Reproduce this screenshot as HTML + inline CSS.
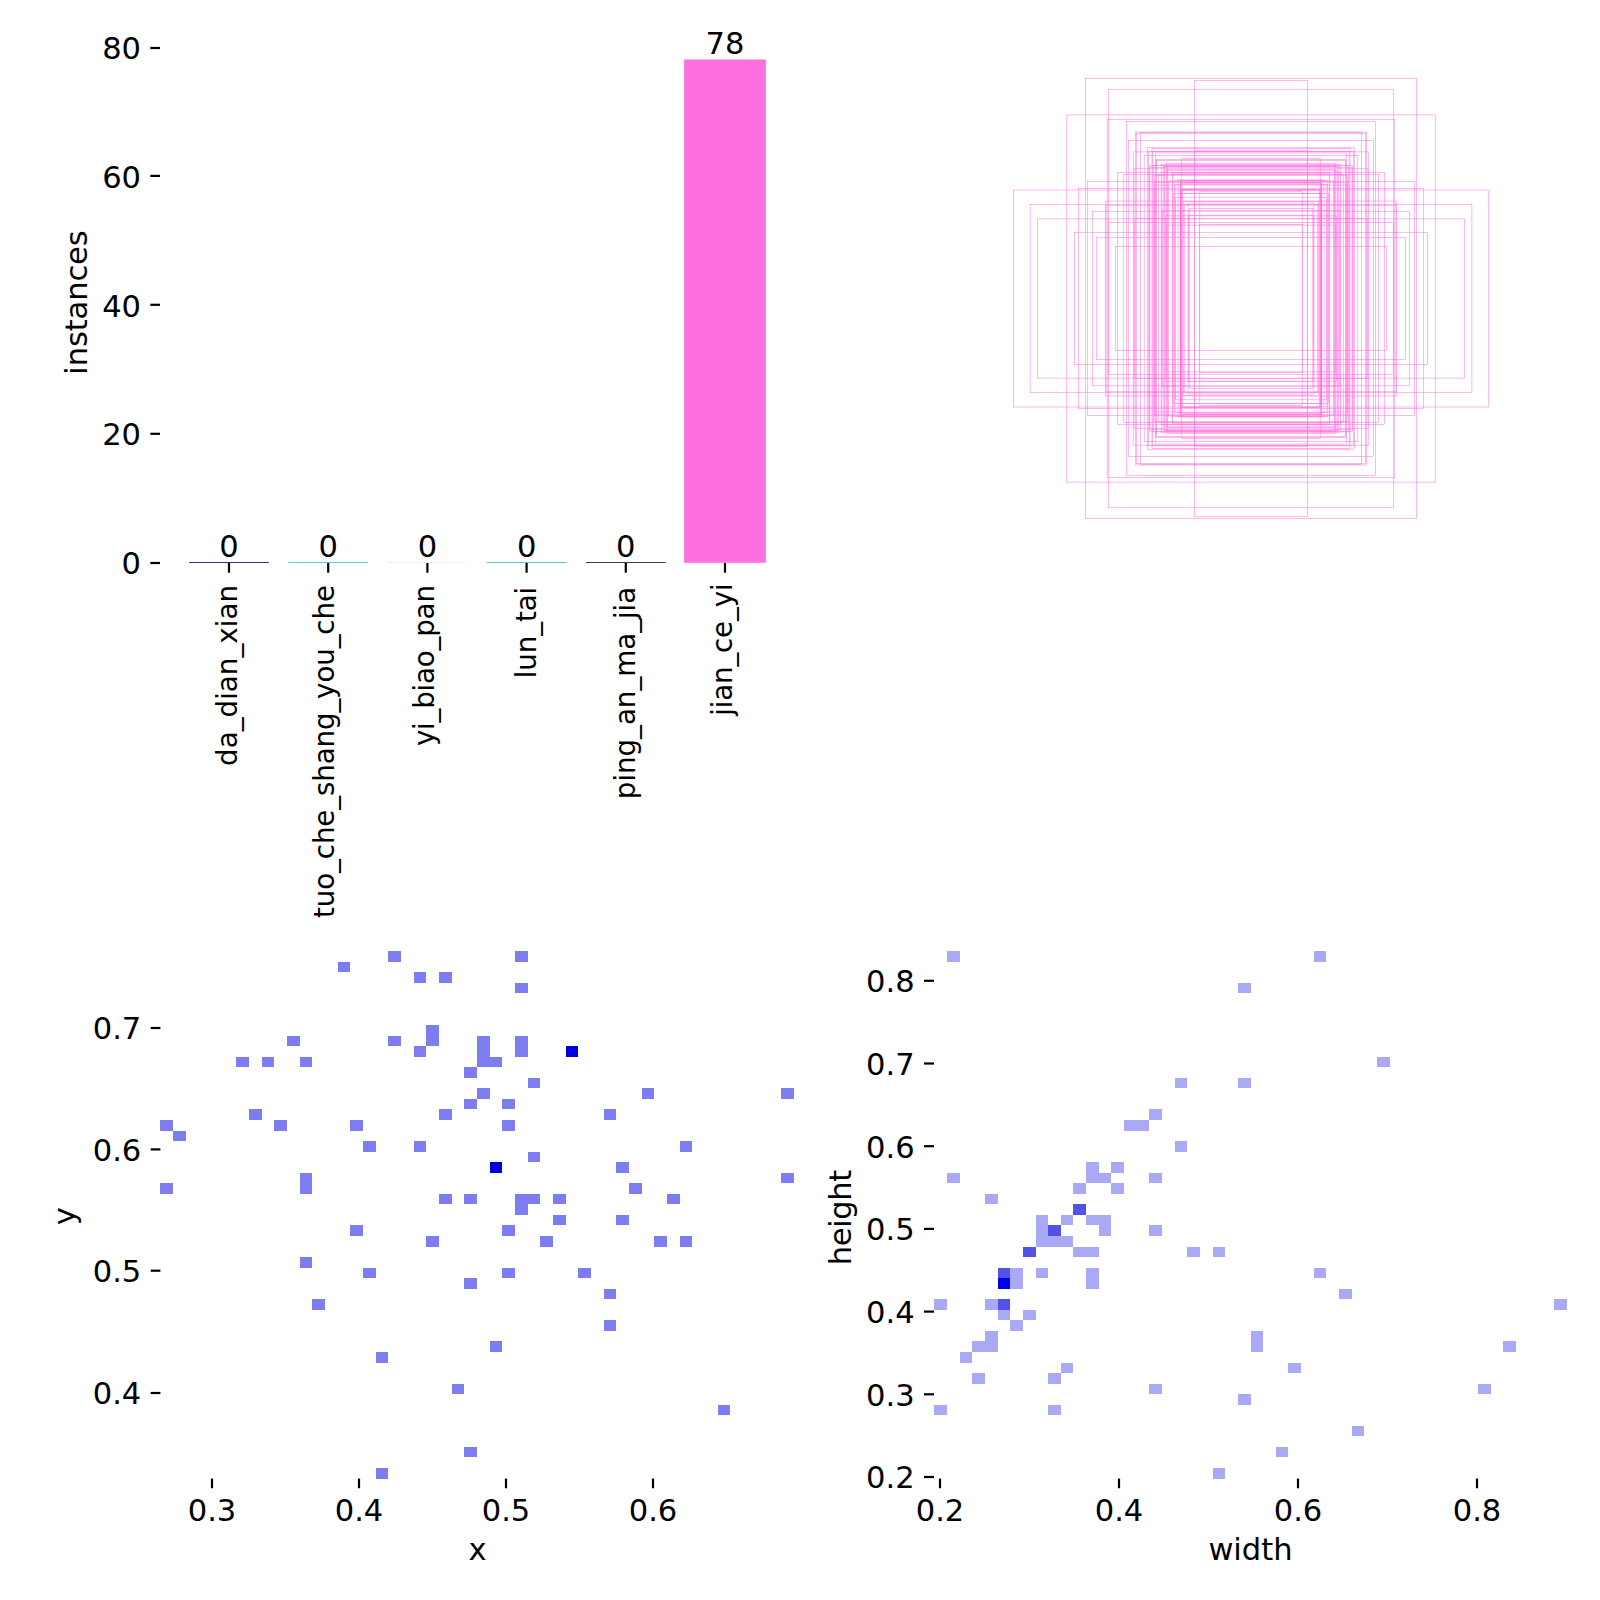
<!DOCTYPE html>
<html><head><meta charset="utf-8"><title>labels</title>
<style>html,body{margin:0;padding:0;background:#fff}svg{display:block}text{font-family:"DejaVu Sans", "Liberation Sans", sans-serif;fill:#000}</style>
</head><body>
<svg width="1600" height="1600" viewBox="0 0 1600 1600">
<rect width="1600" height="1600" fill="#fff"/>
<line x1="150.30" y1="563.00" x2="160.00" y2="563.00" stroke="#000" stroke-width="2.2"/>
<text x="141.00" y="574.00" text-anchor="end" font-size="30.56">0</text>
<line x1="150.30" y1="433.80" x2="160.00" y2="433.80" stroke="#000" stroke-width="2.2"/>
<text x="141.00" y="445.00" text-anchor="end" font-size="30.56">20</text>
<line x1="150.30" y1="304.80" x2="160.00" y2="304.80" stroke="#000" stroke-width="2.2"/>
<text x="141.00" y="317.00" text-anchor="end" font-size="30.56">40</text>
<line x1="150.30" y1="175.90" x2="160.00" y2="175.90" stroke="#000" stroke-width="2.2"/>
<text x="141.00" y="188.00" text-anchor="end" font-size="30.56">60</text>
<line x1="150.30" y1="48.00" x2="160.00" y2="48.00" stroke="#000" stroke-width="2.2"/>
<text x="141.00" y="59.00" text-anchor="end" font-size="30.56">80</text>
<line x1="189.20" y1="562.50" x2="268.80" y2="562.50" stroke="#2e2e9a" stroke-width="1.1"/>
<line x1="229.00" y1="563.00" x2="229.00" y2="572.70" stroke="#000" stroke-width="2.2"/>
<text x="229.00" y="557.00" text-anchor="middle" font-size="30.56">0</text>
<text x="237.30" y="585.00" text-anchor="end" font-size="27.78" transform="rotate(-90 237.30 585.00)" textLength="180.9" lengthAdjust="spacing">da_dian_xian</text>
<line x1="288.40" y1="562.50" x2="368.00" y2="562.50" stroke="#4fd2dc" stroke-width="1.1"/>
<line x1="328.20" y1="563.00" x2="328.20" y2="572.70" stroke="#000" stroke-width="2.2"/>
<text x="328.20" y="557.00" text-anchor="middle" font-size="30.56">0</text>
<text x="334.25" y="585.00" text-anchor="end" font-size="27.78" transform="rotate(-90 334.25 585.00)" textLength="332.9" lengthAdjust="spacing">tuo_che_shang_you_che</text>
<line x1="387.60" y1="562.50" x2="467.20" y2="562.50" stroke="#eeeeee" stroke-width="1.1"/>
<line x1="427.40" y1="563.00" x2="427.40" y2="572.70" stroke="#000" stroke-width="2.2"/>
<text x="427.40" y="557.00" text-anchor="middle" font-size="30.56">0</text>
<text x="433.95" y="585.00" text-anchor="end" font-size="27.78" transform="rotate(-90 433.95 585.00)" textLength="161.1" lengthAdjust="spacing">yi_biao_pan</text>
<line x1="486.80" y1="562.50" x2="566.40" y2="562.50" stroke="#45d2c4" stroke-width="1.1"/>
<line x1="526.60" y1="563.00" x2="526.60" y2="572.70" stroke="#000" stroke-width="2.2"/>
<text x="526.60" y="557.00" text-anchor="middle" font-size="30.56">0</text>
<text x="535.65" y="586.75" text-anchor="end" font-size="27.78" transform="rotate(-90 535.65 586.75)" textLength="91.5" lengthAdjust="spacing">lun_tai</text>
<line x1="586.00" y1="562.50" x2="665.60" y2="562.50" stroke="#3c3c48" stroke-width="1.1"/>
<line x1="625.80" y1="563.00" x2="625.80" y2="572.70" stroke="#000" stroke-width="2.2"/>
<text x="625.80" y="557.00" text-anchor="middle" font-size="30.56">0</text>
<text x="635.10" y="586.75" text-anchor="end" font-size="27.78" transform="rotate(-90 635.10 586.75)" textLength="212.4" lengthAdjust="spacing">ping_an_ma_jia</text>
<rect x="684.10" y="59.48" width="81.80" height="503.32" fill="#ff6fde"/>
<line x1="725.00" y1="563.00" x2="725.00" y2="572.70" stroke="#000" stroke-width="2.2"/>
<text x="725.00" y="53.77" text-anchor="middle" font-size="30.56">78</text>
<text x="731.55" y="583.40" text-anchor="end" font-size="27.78" transform="rotate(-90 731.55 583.40)" textLength="132.4" lengthAdjust="spacing">jian_ce_yi</text>
<text x="87.20" y="302.50" text-anchor="middle" font-size="30.56" transform="rotate(-90 87.20 302.50)" textLength="144.4" lengthAdjust="spacing">instances</text>
<g fill="none" stroke="#ff6fde" stroke-opacity="0.9" stroke-width="0.55">
<rect x="1199.80" y="191.60" width="102.40" height="213.80"/>
<rect x="1199.40" y="224.30" width="103.20" height="148.40"/>
<rect x="1194.50" y="80.30" width="113.00" height="436.40"/>
<rect x="1194.60" y="150.80" width="112.80" height="295.40"/>
<rect x="1189.20" y="208.40" width="123.60" height="180.20"/>
<rect x="1188.00" y="203.00" width="126.00" height="191.00"/>
<rect x="1188.50" y="215.30" width="125.00" height="166.40"/>
<rect x="1181.80" y="158.40" width="138.40" height="280.20"/>
<rect x="1182.60" y="189.30" width="136.80" height="218.40"/>
<rect x="1183.40" y="201.30" width="135.20" height="194.40"/>
<rect x="1184.20" y="204.60" width="133.60" height="187.80"/>
<rect x="1178.00" y="179.90" width="146.00" height="237.20"/>
<rect x="1180.20" y="180.30" width="141.60" height="236.40"/>
<rect x="1180.40" y="182.50" width="141.20" height="232.00"/>
<rect x="1180.70" y="182.80" width="140.60" height="231.40"/>
<rect x="1181.00" y="183.50" width="140.00" height="230.00"/>
<rect x="1180.50" y="189.60" width="141.00" height="217.80"/>
<rect x="1181.10" y="190.60" width="139.80" height="215.80"/>
<rect x="1181.20" y="193.30" width="139.60" height="210.40"/>
<rect x="1174.20" y="180.60" width="153.60" height="235.80"/>
<rect x="1175.00" y="184.60" width="152.00" height="227.80"/>
<rect x="1175.70" y="197.20" width="150.60" height="202.60"/>
<rect x="1172.20" y="172.60" width="157.60" height="251.80"/>
<rect x="1172.80" y="173.80" width="156.40" height="249.40"/>
<rect x="1173.50" y="193.70" width="155.00" height="209.60"/>
<rect x="1166.60" y="163.40" width="168.80" height="270.20"/>
<rect x="1167.20" y="166.00" width="167.60" height="265.00"/>
<rect x="1167.80" y="169.50" width="166.40" height="258.00"/>
<rect x="1168.40" y="181.00" width="165.20" height="235.00"/>
<rect x="1163.20" y="166.30" width="175.60" height="264.40"/>
<rect x="1164.20" y="166.60" width="173.60" height="263.80"/>
<rect x="1165.00" y="170.20" width="172.00" height="256.60"/>
<rect x="1165.70" y="215.90" width="170.60" height="165.20"/>
<rect x="1166.20" y="225.10" width="169.60" height="146.80"/>
<rect x="1161.20" y="164.60" width="179.60" height="267.80"/>
<rect x="1161.80" y="172.20" width="178.40" height="252.60"/>
<rect x="1162.40" y="210.30" width="177.20" height="176.40"/>
<rect x="1155.60" y="153.00" width="190.80" height="291.00"/>
<rect x="1156.00" y="159.50" width="190.00" height="278.00"/>
<rect x="1156.40" y="160.30" width="189.20" height="276.40"/>
<rect x="1158.40" y="174.40" width="185.20" height="248.20"/>
<rect x="1152.00" y="148.50" width="198.00" height="300.00"/>
<rect x="1152.80" y="151.20" width="196.40" height="294.60"/>
<rect x="1153.60" y="165.20" width="194.80" height="266.60"/>
<rect x="1154.20" y="175.30" width="193.60" height="246.40"/>
<rect x="1154.60" y="182.20" width="192.80" height="232.60"/>
<rect x="1155.00" y="185.00" width="192.00" height="227.00"/>
<rect x="1148.60" y="151.50" width="204.80" height="294.00"/>
<rect x="1149.30" y="165.50" width="203.40" height="266.00"/>
<rect x="1149.90" y="167.50" width="202.20" height="262.00"/>
<rect x="1147.40" y="147.80" width="207.20" height="301.40"/>
<rect x="1144.20" y="155.30" width="213.60" height="286.40"/>
<rect x="1140.60" y="132.60" width="220.80" height="331.80"/>
<rect x="1136.70" y="133.60" width="228.60" height="329.80"/>
<rect x="1135.70" y="132.00" width="230.60" height="333.00"/>
<rect x="1133.20" y="151.90" width="235.60" height="293.20"/>
<rect x="1134.00" y="168.80" width="234.00" height="259.40"/>
<rect x="1134.80" y="218.50" width="232.40" height="160.00"/>
<rect x="1126.50" y="121.40" width="249.00" height="354.20"/>
<rect x="1128.40" y="140.40" width="245.20" height="316.20"/>
<rect x="1123.40" y="174.60" width="255.20" height="247.80"/>
<rect x="1117.70" y="172.40" width="266.60" height="252.20"/>
<rect x="1115.60" y="246.40" width="270.80" height="104.20"/>
<rect x="1108.50" y="89.20" width="285.00" height="418.60"/>
<rect x="1107.20" y="119.30" width="287.60" height="358.40"/>
<rect x="1108.30" y="222.40" width="285.40" height="152.20"/>
<rect x="1105.30" y="201.00" width="291.40" height="195.00"/>
<rect x="1106.00" y="205.20" width="290.00" height="186.60"/>
<rect x="1096.70" y="237.40" width="308.60" height="122.20"/>
<rect x="1092.60" y="211.20" width="316.80" height="174.60"/>
<rect x="1085.30" y="78.40" width="331.40" height="440.20"/>
<rect x="1087.50" y="181.50" width="327.00" height="234.00"/>
<rect x="1078.60" y="188.40" width="344.80" height="220.20"/>
<rect x="1074.60" y="232.30" width="352.80" height="132.40"/>
<rect x="1066.80" y="114.90" width="368.40" height="367.20"/>
<rect x="1037.60" y="218.90" width="426.80" height="159.20"/>
<rect x="1030.10" y="204.40" width="441.80" height="188.20"/>
<rect x="1013.35" y="190.00" width="475.30" height="217.00"/>
</g>
<g shape-rendering="crispEdges">
<rect x="388.00" y="951.00" width="13.00" height="11.00" fill="#7d7df1"/>
<rect x="515.00" y="951.00" width="13.00" height="11.00" fill="#7d7df1"/>
<rect x="338.00" y="962.00" width="12.00" height="10.00" fill="#7d7df1"/>
<rect x="414.00" y="972.00" width="12.00" height="11.00" fill="#7d7df1"/>
<rect x="439.00" y="972.00" width="13.00" height="11.00" fill="#7d7df1"/>
<rect x="515.00" y="983.00" width="13.00" height="10.00" fill="#7d7df1"/>
<rect x="426.00" y="1025.00" width="13.00" height="11.00" fill="#7d7df1"/>
<rect x="287.00" y="1036.00" width="13.00" height="10.00" fill="#7d7df1"/>
<rect x="388.00" y="1036.00" width="13.00" height="10.00" fill="#7d7df1"/>
<rect x="426.00" y="1036.00" width="13.00" height="10.00" fill="#7d7df1"/>
<rect x="477.00" y="1036.00" width="13.00" height="10.00" fill="#7d7df1"/>
<rect x="515.00" y="1036.00" width="13.00" height="10.00" fill="#7d7df1"/>
<rect x="414.00" y="1046.00" width="12.00" height="11.00" fill="#7d7df1"/>
<rect x="477.00" y="1046.00" width="13.00" height="11.00" fill="#7d7df1"/>
<rect x="515.00" y="1046.00" width="13.00" height="11.00" fill="#7d7df1"/>
<rect x="566.00" y="1046.00" width="12.00" height="11.00" fill="#0000de"/>
<rect x="236.00" y="1057.00" width="13.00" height="10.00" fill="#7d7df1"/>
<rect x="262.00" y="1057.00" width="12.00" height="10.00" fill="#7d7df1"/>
<rect x="300.00" y="1057.00" width="12.00" height="10.00" fill="#7d7df1"/>
<rect x="477.00" y="1057.00" width="13.00" height="10.00" fill="#7d7df1"/>
<rect x="490.00" y="1057.00" width="12.00" height="10.00" fill="#7d7df1"/>
<rect x="464.00" y="1067.00" width="13.00" height="11.00" fill="#7d7df1"/>
<rect x="528.00" y="1078.00" width="12.00" height="10.00" fill="#7d7df1"/>
<rect x="477.00" y="1088.00" width="13.00" height="11.00" fill="#7d7df1"/>
<rect x="642.00" y="1088.00" width="12.00" height="11.00" fill="#7d7df1"/>
<rect x="781.00" y="1088.00" width="13.00" height="11.00" fill="#7d7df1"/>
<rect x="464.00" y="1099.00" width="13.00" height="10.00" fill="#7d7df1"/>
<rect x="502.00" y="1099.00" width="13.00" height="10.00" fill="#7d7df1"/>
<rect x="249.00" y="1109.00" width="13.00" height="11.00" fill="#7d7df1"/>
<rect x="439.00" y="1109.00" width="13.00" height="11.00" fill="#7d7df1"/>
<rect x="604.00" y="1109.00" width="12.00" height="11.00" fill="#7d7df1"/>
<rect x="160.00" y="1120.00" width="13.00" height="11.00" fill="#7d7df1"/>
<rect x="274.00" y="1120.00" width="13.00" height="11.00" fill="#7d7df1"/>
<rect x="350.00" y="1120.00" width="13.00" height="11.00" fill="#7d7df1"/>
<rect x="502.00" y="1120.00" width="13.00" height="11.00" fill="#7d7df1"/>
<rect x="173.00" y="1131.00" width="13.00" height="10.00" fill="#7d7df1"/>
<rect x="363.00" y="1141.00" width="13.00" height="11.00" fill="#7d7df1"/>
<rect x="414.00" y="1141.00" width="12.00" height="11.00" fill="#7d7df1"/>
<rect x="680.00" y="1141.00" width="12.00" height="11.00" fill="#7d7df1"/>
<rect x="528.00" y="1152.00" width="12.00" height="10.00" fill="#7d7df1"/>
<rect x="490.00" y="1162.00" width="12.00" height="11.00" fill="#0000de"/>
<rect x="616.00" y="1162.00" width="13.00" height="11.00" fill="#7d7df1"/>
<rect x="300.00" y="1173.00" width="12.00" height="10.00" fill="#7d7df1"/>
<rect x="781.00" y="1173.00" width="13.00" height="10.00" fill="#7d7df1"/>
<rect x="160.00" y="1183.00" width="13.00" height="11.00" fill="#7d7df1"/>
<rect x="300.00" y="1183.00" width="12.00" height="11.00" fill="#7d7df1"/>
<rect x="629.00" y="1183.00" width="13.00" height="11.00" fill="#7d7df1"/>
<rect x="439.00" y="1194.00" width="13.00" height="10.00" fill="#7d7df1"/>
<rect x="464.00" y="1194.00" width="13.00" height="10.00" fill="#7d7df1"/>
<rect x="515.00" y="1194.00" width="13.00" height="10.00" fill="#7d7df1"/>
<rect x="528.00" y="1194.00" width="12.00" height="10.00" fill="#7d7df1"/>
<rect x="553.00" y="1194.00" width="13.00" height="10.00" fill="#7d7df1"/>
<rect x="667.00" y="1194.00" width="13.00" height="10.00" fill="#7d7df1"/>
<rect x="515.00" y="1204.00" width="13.00" height="11.00" fill="#7d7df1"/>
<rect x="553.00" y="1215.00" width="13.00" height="10.00" fill="#7d7df1"/>
<rect x="616.00" y="1215.00" width="13.00" height="10.00" fill="#7d7df1"/>
<rect x="350.00" y="1225.00" width="13.00" height="11.00" fill="#7d7df1"/>
<rect x="502.00" y="1225.00" width="13.00" height="11.00" fill="#7d7df1"/>
<rect x="426.00" y="1236.00" width="13.00" height="11.00" fill="#7d7df1"/>
<rect x="540.00" y="1236.00" width="13.00" height="11.00" fill="#7d7df1"/>
<rect x="654.00" y="1236.00" width="13.00" height="11.00" fill="#7d7df1"/>
<rect x="680.00" y="1236.00" width="12.00" height="11.00" fill="#7d7df1"/>
<rect x="300.00" y="1257.00" width="12.00" height="11.00" fill="#7d7df1"/>
<rect x="363.00" y="1268.00" width="13.00" height="10.00" fill="#7d7df1"/>
<rect x="502.00" y="1268.00" width="13.00" height="10.00" fill="#7d7df1"/>
<rect x="578.00" y="1268.00" width="13.00" height="10.00" fill="#7d7df1"/>
<rect x="464.00" y="1278.00" width="13.00" height="11.00" fill="#7d7df1"/>
<rect x="604.00" y="1289.00" width="12.00" height="10.00" fill="#7d7df1"/>
<rect x="312.00" y="1299.00" width="13.00" height="11.00" fill="#7d7df1"/>
<rect x="604.00" y="1320.00" width="12.00" height="11.00" fill="#7d7df1"/>
<rect x="490.00" y="1341.00" width="12.00" height="11.00" fill="#7d7df1"/>
<rect x="376.00" y="1352.00" width="12.00" height="11.00" fill="#7d7df1"/>
<rect x="452.00" y="1384.00" width="12.00" height="10.00" fill="#7d7df1"/>
<rect x="718.00" y="1405.00" width="12.00" height="10.00" fill="#7d7df1"/>
<rect x="464.00" y="1447.00" width="13.00" height="10.00" fill="#7d7df1"/>
<rect x="376.00" y="1468.00" width="12.00" height="11.00" fill="#7d7df1"/>
</g>
<line x1="212.00" y1="1478.55" x2="212.00" y2="1488.25" stroke="#000" stroke-width="2.2"/>
<text x="212.00" y="1521.00" text-anchor="middle" font-size="30.56">0.3</text>
<line x1="359.00" y1="1478.55" x2="359.00" y2="1488.25" stroke="#000" stroke-width="2.2"/>
<text x="359.00" y="1521.00" text-anchor="middle" font-size="30.56">0.4</text>
<line x1="506.00" y1="1478.55" x2="506.00" y2="1488.25" stroke="#000" stroke-width="2.2"/>
<text x="506.00" y="1521.00" text-anchor="middle" font-size="30.56">0.5</text>
<line x1="653.00" y1="1478.55" x2="653.00" y2="1488.25" stroke="#000" stroke-width="2.2"/>
<text x="653.00" y="1521.00" text-anchor="middle" font-size="30.56">0.6</text>
<line x1="150.70" y1="1028.00" x2="160.40" y2="1028.00" stroke="#000" stroke-width="2.2"/>
<text x="141.30" y="1039.00" text-anchor="end" font-size="30.56">0.7</text>
<line x1="150.70" y1="1149.40" x2="160.40" y2="1149.40" stroke="#000" stroke-width="2.2"/>
<text x="141.30" y="1161.00" text-anchor="end" font-size="30.56">0.6</text>
<line x1="150.70" y1="1270.70" x2="160.40" y2="1270.70" stroke="#000" stroke-width="2.2"/>
<text x="141.30" y="1282.00" text-anchor="end" font-size="30.56">0.5</text>
<line x1="150.70" y1="1393.00" x2="160.40" y2="1393.00" stroke="#000" stroke-width="2.2"/>
<text x="141.30" y="1404.00" text-anchor="end" font-size="30.56">0.4</text>
<text x="477.50" y="1560.30" text-anchor="middle" font-size="30.56">x</text>
<text x="74.60" y="1216.30" text-anchor="middle" font-size="30.56" transform="rotate(-90 74.60 1216.30)">y</text>
<g shape-rendering="crispEdges">
<rect x="947.00" y="951.00" width="13.00" height="11.00" fill="#a9a9f6"/>
<rect x="1314.00" y="951.00" width="12.00" height="11.00" fill="#a9a9f6"/>
<rect x="1238.00" y="983.00" width="13.00" height="10.00" fill="#a9a9f6"/>
<rect x="1377.00" y="1057.00" width="13.00" height="10.00" fill="#a9a9f6"/>
<rect x="1175.00" y="1078.00" width="12.00" height="10.00" fill="#a9a9f6"/>
<rect x="1238.00" y="1078.00" width="13.00" height="10.00" fill="#a9a9f6"/>
<rect x="1149.00" y="1109.00" width="13.00" height="11.00" fill="#a9a9f6"/>
<rect x="1124.00" y="1120.00" width="13.00" height="11.00" fill="#a9a9f6"/>
<rect x="1137.00" y="1120.00" width="12.00" height="11.00" fill="#a9a9f6"/>
<rect x="1175.00" y="1141.00" width="12.00" height="11.00" fill="#a9a9f6"/>
<rect x="1086.00" y="1162.00" width="13.00" height="11.00" fill="#a9a9f6"/>
<rect x="1111.00" y="1162.00" width="13.00" height="11.00" fill="#a9a9f6"/>
<rect x="947.00" y="1173.00" width="13.00" height="10.00" fill="#a9a9f6"/>
<rect x="1086.00" y="1173.00" width="13.00" height="10.00" fill="#a9a9f6"/>
<rect x="1099.00" y="1173.00" width="12.00" height="10.00" fill="#a9a9f6"/>
<rect x="1149.00" y="1173.00" width="13.00" height="10.00" fill="#a9a9f6"/>
<rect x="1073.00" y="1183.00" width="13.00" height="11.00" fill="#a9a9f6"/>
<rect x="1111.00" y="1183.00" width="13.00" height="11.00" fill="#a9a9f6"/>
<rect x="985.00" y="1194.00" width="13.00" height="10.00" fill="#a9a9f6"/>
<rect x="1073.00" y="1204.00" width="13.00" height="11.00" fill="#5252ea"/>
<rect x="1036.00" y="1215.00" width="12.00" height="10.00" fill="#a9a9f6"/>
<rect x="1061.00" y="1215.00" width="12.00" height="10.00" fill="#a9a9f6"/>
<rect x="1086.00" y="1215.00" width="13.00" height="10.00" fill="#a9a9f6"/>
<rect x="1099.00" y="1215.00" width="12.00" height="10.00" fill="#a9a9f6"/>
<rect x="1036.00" y="1225.00" width="12.00" height="11.00" fill="#a9a9f6"/>
<rect x="1048.00" y="1225.00" width="13.00" height="11.00" fill="#5252ea"/>
<rect x="1099.00" y="1225.00" width="12.00" height="11.00" fill="#a9a9f6"/>
<rect x="1149.00" y="1225.00" width="13.00" height="11.00" fill="#a9a9f6"/>
<rect x="1036.00" y="1236.00" width="12.00" height="11.00" fill="#a9a9f6"/>
<rect x="1048.00" y="1236.00" width="13.00" height="11.00" fill="#a9a9f6"/>
<rect x="1061.00" y="1236.00" width="12.00" height="11.00" fill="#a9a9f6"/>
<rect x="1023.00" y="1247.00" width="13.00" height="10.00" fill="#5252ea"/>
<rect x="1073.00" y="1247.00" width="13.00" height="10.00" fill="#a9a9f6"/>
<rect x="1086.00" y="1247.00" width="13.00" height="10.00" fill="#a9a9f6"/>
<rect x="1187.00" y="1247.00" width="13.00" height="10.00" fill="#a9a9f6"/>
<rect x="1213.00" y="1247.00" width="12.00" height="10.00" fill="#a9a9f6"/>
<rect x="998.00" y="1268.00" width="12.00" height="10.00" fill="#5252ea"/>
<rect x="1010.00" y="1268.00" width="13.00" height="10.00" fill="#a9a9f6"/>
<rect x="1036.00" y="1268.00" width="12.00" height="10.00" fill="#a9a9f6"/>
<rect x="1086.00" y="1268.00" width="13.00" height="10.00" fill="#a9a9f6"/>
<rect x="1314.00" y="1268.00" width="12.00" height="10.00" fill="#a9a9f6"/>
<rect x="998.00" y="1278.00" width="12.00" height="11.00" fill="#0000f0"/>
<rect x="1010.00" y="1278.00" width="13.00" height="11.00" fill="#a9a9f6"/>
<rect x="1086.00" y="1278.00" width="13.00" height="11.00" fill="#a9a9f6"/>
<rect x="1339.00" y="1289.00" width="13.00" height="10.00" fill="#a9a9f6"/>
<rect x="934.00" y="1299.00" width="13.00" height="11.00" fill="#a9a9f6"/>
<rect x="985.00" y="1299.00" width="13.00" height="11.00" fill="#a9a9f6"/>
<rect x="998.00" y="1299.00" width="12.00" height="11.00" fill="#5252ea"/>
<rect x="1554.00" y="1299.00" width="13.00" height="11.00" fill="#a9a9f6"/>
<rect x="998.00" y="1310.00" width="12.00" height="10.00" fill="#a9a9f6"/>
<rect x="1023.00" y="1310.00" width="13.00" height="10.00" fill="#a9a9f6"/>
<rect x="1010.00" y="1320.00" width="13.00" height="11.00" fill="#a9a9f6"/>
<rect x="985.00" y="1331.00" width="13.00" height="10.00" fill="#a9a9f6"/>
<rect x="1251.00" y="1331.00" width="12.00" height="10.00" fill="#a9a9f6"/>
<rect x="972.00" y="1341.00" width="13.00" height="11.00" fill="#a9a9f6"/>
<rect x="985.00" y="1341.00" width="13.00" height="11.00" fill="#a9a9f6"/>
<rect x="1251.00" y="1341.00" width="12.00" height="11.00" fill="#a9a9f6"/>
<rect x="1503.00" y="1341.00" width="13.00" height="11.00" fill="#a9a9f6"/>
<rect x="960.00" y="1352.00" width="12.00" height="11.00" fill="#a9a9f6"/>
<rect x="1061.00" y="1363.00" width="12.00" height="10.00" fill="#a9a9f6"/>
<rect x="1288.00" y="1363.00" width="13.00" height="10.00" fill="#a9a9f6"/>
<rect x="972.00" y="1373.00" width="13.00" height="11.00" fill="#a9a9f6"/>
<rect x="1048.00" y="1373.00" width="13.00" height="11.00" fill="#a9a9f6"/>
<rect x="1149.00" y="1384.00" width="13.00" height="10.00" fill="#a9a9f6"/>
<rect x="1478.00" y="1384.00" width="13.00" height="10.00" fill="#a9a9f6"/>
<rect x="1238.00" y="1394.00" width="13.00" height="11.00" fill="#a9a9f6"/>
<rect x="934.00" y="1405.00" width="13.00" height="10.00" fill="#a9a9f6"/>
<rect x="1048.00" y="1405.00" width="13.00" height="10.00" fill="#a9a9f6"/>
<rect x="1352.00" y="1426.00" width="12.00" height="10.00" fill="#a9a9f6"/>
<rect x="1276.00" y="1447.00" width="12.00" height="10.00" fill="#a9a9f6"/>
<rect x="1213.00" y="1468.00" width="12.00" height="11.00" fill="#a9a9f6"/>
</g>
<line x1="940.00" y1="1478.55" x2="940.00" y2="1488.25" stroke="#000" stroke-width="2.2"/>
<text x="940.00" y="1521.00" text-anchor="middle" font-size="30.56">0.2</text>
<line x1="1119.00" y1="1478.55" x2="1119.00" y2="1488.25" stroke="#000" stroke-width="2.2"/>
<text x="1119.00" y="1521.00" text-anchor="middle" font-size="30.56">0.4</text>
<line x1="1298.00" y1="1478.55" x2="1298.00" y2="1488.25" stroke="#000" stroke-width="2.2"/>
<text x="1298.00" y="1521.00" text-anchor="middle" font-size="30.56">0.6</text>
<line x1="1477.00" y1="1478.55" x2="1477.00" y2="1488.25" stroke="#000" stroke-width="2.2"/>
<text x="1477.00" y="1521.00" text-anchor="middle" font-size="30.56">0.8</text>
<line x1="924.00" y1="980.80" x2="934.00" y2="980.80" stroke="#000" stroke-width="2.2"/>
<text x="914.70" y="992.00" text-anchor="end" font-size="30.56">0.8</text>
<line x1="924.00" y1="1063.50" x2="934.00" y2="1063.50" stroke="#000" stroke-width="2.2"/>
<text x="914.70" y="1075.00" text-anchor="end" font-size="30.56">0.7</text>
<line x1="924.00" y1="1146.20" x2="934.00" y2="1146.20" stroke="#000" stroke-width="2.2"/>
<text x="914.70" y="1158.00" text-anchor="end" font-size="30.56">0.6</text>
<line x1="924.00" y1="1228.90" x2="934.00" y2="1228.90" stroke="#000" stroke-width="2.2"/>
<text x="914.70" y="1240.00" text-anchor="end" font-size="30.56">0.5</text>
<line x1="924.00" y1="1311.60" x2="934.00" y2="1311.60" stroke="#000" stroke-width="2.2"/>
<text x="914.70" y="1323.00" text-anchor="end" font-size="30.56">0.4</text>
<line x1="924.00" y1="1394.30" x2="934.00" y2="1394.30" stroke="#000" stroke-width="2.2"/>
<text x="914.70" y="1406.00" text-anchor="end" font-size="30.56">0.3</text>
<line x1="924.00" y1="1477.00" x2="934.00" y2="1477.00" stroke="#000" stroke-width="2.2"/>
<text x="914.70" y="1488.00" text-anchor="end" font-size="30.56">0.2</text>
<text x="1250.50" y="1560.30" text-anchor="middle" font-size="30.56">width</text>
<text x="851.00" y="1217.40" text-anchor="middle" font-size="30.56" transform="rotate(-90 851.00 1217.40)" textLength="95.5" lengthAdjust="spacing">height</text>
</svg>
</body></html>
